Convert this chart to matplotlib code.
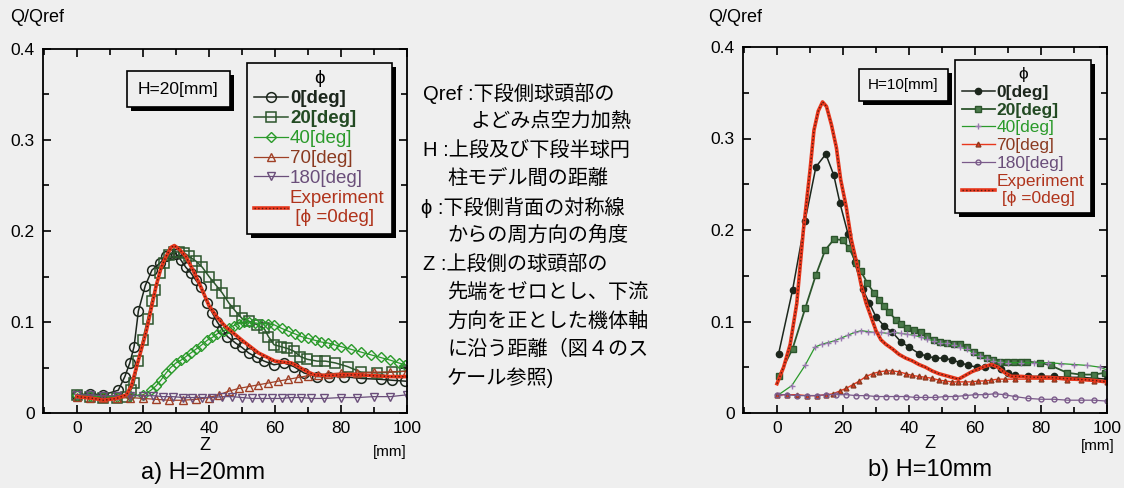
import matplotlib
matplotlib.use("Agg")
import matplotlib.pyplot as plt
from matplotlib.ticker import MultipleLocator
import matplotlib.patheffects as pe

plt.rcParams['font.family'] = ['Liberation Sans', 'Noto Sans CJK JP', 'DejaVu Sans']

# ---- data: a) H=20mm ----
a0_z = [0, 4, 8, 12.5, 14.5, 16, 17.3, 18.6, 20.7, 22.7, 25.2, 27, 28.5, 30, 31.5, 33, 34.5, 36, 37.5,
        39.5, 41, 42.5, 44, 45.6, 48, 50, 52, 54.5, 56.7, 59.7, 62.7, 65.7, 68.8, 72.8, 76.5, 80.8, 86, 92, 95.5, 99.5]
a0_v = [0.02, 0.021, 0.02, 0.025, 0.04, 0.055, 0.073, 0.112, 0.14, 0.157, 0.165, 0.172, 0.175, 0.175, 0.168, 0.16,
        0.154, 0.146, 0.139, 0.121, 0.11, 0.1, 0.092, 0.084, 0.077, 0.072, 0.066, 0.061, 0.057, 0.053, 0.055, 0.051,
        0.044, 0.04, 0.04, 0.04, 0.038, 0.037, 0.036, 0.035]
a20_z = [0, 4, 8, 12, 15, 16.3, 17.3, 18.6, 19.9, 21.4, 22.6, 23.6, 25.2, 26.4, 27.9, 29.4, 31, 32.5, 34, 36, 38,
         40, 42, 44, 46, 48, 50, 52, 54.6, 56.7, 58, 59.7, 61.7, 63.7, 65.7, 67.7, 69.8, 72.8, 75.3, 78.3, 82,
         86, 91, 95.5, 99.5]
a20_v = [0.02, 0.018, 0.017, 0.017, 0.018, 0.025, 0.033, 0.057, 0.08, 0.103, 0.123, 0.135, 0.154, 0.165, 0.174,
         0.177, 0.177, 0.176, 0.172, 0.167, 0.16, 0.15, 0.141, 0.132, 0.121, 0.112, 0.104, 0.101, 0.097, 0.093,
         0.084, 0.075, 0.073, 0.071, 0.068, 0.062, 0.059, 0.057, 0.057, 0.055, 0.051, 0.045, 0.044, 0.045, 0.046]
a40_z = [0, 4, 8, 12, 16, 20, 22.4, 24, 25.4, 27, 28.4, 30, 31.5, 33, 34.5, 36, 37.5, 39.5, 41, 42.5, 44.5,
         46, 47.5, 49, 50.5, 52, 54, 56, 58, 59.7, 62, 64, 66, 68, 70, 72, 74, 76, 78, 80, 83, 86, 89, 92, 95, 97.5, 99.5]
a40_v = [0.02, 0.019, 0.018, 0.018, 0.019, 0.02, 0.025, 0.03, 0.036, 0.044, 0.05, 0.055, 0.058, 0.062, 0.066,
         0.07, 0.074, 0.08, 0.083, 0.087, 0.09, 0.093, 0.096, 0.098, 0.1, 0.1, 0.099, 0.098, 0.098, 0.097, 0.093,
         0.09, 0.087, 0.084, 0.082, 0.08, 0.078, 0.077, 0.075, 0.073, 0.07, 0.067, 0.064, 0.061, 0.058, 0.055, 0.053]
a70_z = [0, 4, 8, 12, 16, 20, 24, 28, 32, 36, 40, 43, 46, 49, 52, 55, 58, 61, 64, 67, 70, 73, 76, 80, 85, 90, 95, 100]
a70_v = [0.018, 0.017, 0.016, 0.016, 0.017, 0.016, 0.015, 0.014, 0.014, 0.015, 0.017, 0.02, 0.024, 0.027, 0.029,
         0.031, 0.033, 0.035, 0.037, 0.039, 0.041, 0.042, 0.043, 0.044, 0.044, 0.045, 0.045, 0.046]
a180_z = [0, 4, 8, 12, 16, 20, 23, 26, 29, 32, 35, 38, 41, 44, 47, 50, 53, 56, 59, 62, 65, 68, 71, 75, 80, 85, 90, 95, 100]
a180_v = [0.02, 0.02, 0.019, 0.019, 0.019, 0.019, 0.019, 0.018, 0.018, 0.017, 0.017, 0.017, 0.017, 0.018, 0.018,
          0.017, 0.016, 0.016, 0.016, 0.016, 0.017, 0.017, 0.016, 0.016, 0.017, 0.017, 0.018, 0.018, 0.02]
aexp_z = [0, 5, 8, 12, 15, 16.5, 18, 19.5, 21, 22.5, 24, 25.5, 27, 28.5, 29.5, 31, 33, 35, 37, 40, 42.5, 45,
          50, 55, 60, 65, 70, 72, 76, 80, 85, 90, 95, 100]
aexp_v = [0.018, 0.016, 0.014, 0.016, 0.02, 0.03, 0.05, 0.07, 0.09, 0.115, 0.14, 0.16, 0.172, 0.182, 0.184, 0.18,
          0.172, 0.158, 0.143, 0.118, 0.105, 0.095, 0.08, 0.066, 0.057, 0.055, 0.045, 0.042, 0.041, 0.042, 0.042,
          0.041, 0.04, 0.04]

# ---- data: b) H=10mm ----
b0_z = [0.5, 4.7, 8.5, 11.8, 14.8, 17.2, 19.1, 21.5, 23.5, 26, 28, 30, 32.5, 35, 37.5, 40, 43, 45.5, 48, 50.5,
        53, 55.6, 58, 60.7, 63, 65.5, 68, 70, 72, 76, 80, 84, 88, 92, 96, 100]
b0_v = [0.065, 0.134, 0.21, 0.269, 0.283, 0.26, 0.229, 0.196, 0.165, 0.135, 0.12, 0.105, 0.095, 0.088, 0.078,
        0.072, 0.065, 0.062, 0.06, 0.06, 0.058, 0.055, 0.052, 0.05, 0.05, 0.052, 0.048, 0.044, 0.041, 0.04, 0.04,
        0.04, 0.039, 0.039, 0.038, 0.037]
b20_z = [0.5, 4.7, 8.6, 11.8, 14.6, 17.3, 19.9, 21.9, 24, 25.4, 27.4, 29.4, 31, 32.5, 34, 36, 37.5, 39.5, 41.5,
         43.5, 45.5, 47.6, 49.5, 51.6, 53.5, 55.6, 57.5, 59.7, 61.5, 63.7, 65.5, 67.7, 69.8, 71.8, 73.8, 75.8,
         79.8, 82.9, 87.9, 92, 96, 99.5]
b20_v = [0.04, 0.07, 0.115, 0.151, 0.178, 0.19, 0.189, 0.18, 0.164, 0.155, 0.142, 0.131, 0.124, 0.117, 0.11,
         0.102, 0.097, 0.093, 0.091, 0.088, 0.084, 0.08, 0.078, 0.076, 0.075, 0.075, 0.072, 0.067, 0.063, 0.06,
         0.058, 0.056, 0.056, 0.056, 0.056, 0.056, 0.055, 0.052, 0.044, 0.042, 0.042, 0.044]
b40_z = [0.5, 4.5, 8.5, 11.5, 13.5, 15.5, 17.5, 19.5, 21.5, 23.5, 25.5, 27.5, 29.5, 31.5, 33.5, 35.5, 37.5, 39.5,
         41.5, 43.5, 45.5, 47.5, 49.5, 51.5, 53.5, 55.5, 57.5, 59.5, 61.5, 63.5, 65.5, 67.5, 70, 74, 78, 82, 86,
         90, 94, 98, 100]
b40_v = [0.02, 0.03, 0.052, 0.072, 0.075, 0.077, 0.079, 0.082, 0.085, 0.088, 0.09, 0.089, 0.088, 0.088, 0.087,
         0.088, 0.087, 0.086, 0.085, 0.083, 0.081, 0.079, 0.077, 0.076, 0.074, 0.072, 0.07, 0.066, 0.062, 0.059,
         0.057, 0.056, 0.055, 0.055, 0.055, 0.055, 0.054, 0.053, 0.052, 0.05, 0.047]
b70_z = [0, 3, 6, 9, 12, 15, 17, 19, 21, 23, 25, 27, 29, 31, 33, 35, 37, 39, 41, 43, 45, 47, 49, 51, 53, 55, 57,
         59, 61, 63, 65, 67, 69, 72, 76, 80, 84, 88, 92, 96, 100]
b70_v = [0.02, 0.02, 0.02, 0.019, 0.019, 0.02, 0.021, 0.024, 0.027, 0.031, 0.035, 0.04, 0.043, 0.045, 0.046,
         0.046, 0.045, 0.043, 0.041, 0.04, 0.039, 0.038, 0.036, 0.035, 0.034, 0.034, 0.034, 0.034, 0.035, 0.035,
         0.036, 0.037, 0.037, 0.037, 0.037, 0.037, 0.037, 0.036, 0.036, 0.035, 0.034]
b180_z = [0, 3, 6, 9, 12, 15, 18, 21, 24, 27, 30, 33, 36, 39, 42, 45, 48, 51, 54, 57, 60, 63, 66, 69, 72, 76,
          80, 84, 88, 92, 96, 100]
b180_v = [0.02, 0.02, 0.019, 0.019, 0.019, 0.02, 0.02, 0.02, 0.019, 0.019, 0.018, 0.018, 0.018, 0.018, 0.017,
          0.017, 0.017, 0.018, 0.018, 0.019, 0.02, 0.02, 0.021, 0.02, 0.018, 0.016, 0.015, 0.015, 0.014, 0.014,
          0.014, 0.013]
bexp_z = [0, 2, 4, 6, 8, 10, 11.2, 12.5, 13.8, 15, 16.5, 18, 19.3, 21, 22.5, 24.4, 25.5, 27, 28.5, 30, 31.5, 33,
          35, 37, 39, 41, 43, 45, 47, 49, 51, 53, 55, 57, 59, 61, 63, 65, 67, 69, 71, 74, 78, 82, 86, 90, 95, 100]
bexp_v = [0.032, 0.05, 0.075, 0.12, 0.2, 0.265, 0.309, 0.33, 0.34, 0.335, 0.315, 0.29, 0.255, 0.225, 0.19, 0.16,
          0.14, 0.12, 0.105, 0.09, 0.08, 0.075, 0.07, 0.064, 0.06, 0.057, 0.053, 0.05, 0.046, 0.043, 0.041, 0.039,
          0.037, 0.041, 0.045, 0.048, 0.051, 0.053, 0.05, 0.044, 0.04, 0.04, 0.039, 0.039, 0.038, 0.037, 0.036, 0.034]

labels = ['0[deg]', '20[deg]', '40[deg]', '70[deg]', '180[deg]', 'Experiment\n [ϕ =0deg]']
label_colors = ['#1c261c', '#234a23', '#2a9a2a', '#8a3a20', '#6a4e7a', '#b0341c']
label_weights = ['bold', 'bold', 'normal', 'normal', 'normal', 'normal']

BG = '#efefef'
W, H = 1124, 488

fig = plt.figure(figsize=(11.24, 4.88), dpi=100, facecolor=BG)
ax1 = fig.add_axes([43 / W, 1 - 413 / H, 364 / W, 364 / H])
ax2 = fig.add_axes([743 / W, 1 - 413 / H, 364 / W, 366 / H])


def style_axes(ax):
    ax.set_facecolor(BG)
    ax.set_xlim(-10.3, 100)
    ax.set_ylim(0, 0.4)
    ax.xaxis.set_minor_locator(MultipleLocator(10))
    ax.yaxis.set_minor_locator(MultipleLocator(0.05))
    ax.set_xticks([0, 20, 40, 60, 80, 100])
    ax.set_yticks([0, 0.1, 0.2, 0.3, 0.4])
    ax.set_yticklabels(['0', '0.1', '0.2', '0.3', '0.4'])
    ax.tick_params(which='both', direction='in', top=True, right=True, labelsize=12.5, width=1.2, pad=6)
    ax.tick_params(which='major', length=6)
    ax.tick_params(which='minor', length=4)
    for s in ax.spines.values():
        s.set_linewidth(1.3)


style_axes(ax1)
style_axes(ax2)

# a) hollow markers
h = []
h += ax1.plot(a0_z, a0_v, '-o', color='#1c261c', mfc='none', ms=7, mew=1.1, lw=1.1)
h += ax1.plot(a20_z, a20_v, '-s', color='#2c552c', mfc='none', ms=6.5, mew=1.1, lw=1.1)
h += ax1.plot(a40_z, a40_v, '-D', color='#2a9a2a', mfc='none', ms=5, mew=1.0, lw=0.9)
h += ax1.plot(a70_z, a70_v, '-^', color='#a04026', mfc='none', ms=6, mew=1.0, lw=0.9)
h += ax1.plot(a180_z, a180_v, '-v', color='#6a4e7a', mfc='none', ms=6, mew=1.0, lw=0.9)
ax1.plot(aexp_z, aexp_v, '-', color='#e8371c', lw=2.6)
h += ax1.plot(aexp_z, aexp_v, ':', color='#5a1a10', lw=1.0)
h[-1] = (ax1.plot([], [], '-', color='#e8371c', lw=2.6)[0], h[-1])

# b) small filled markers
g = []
g += ax2.plot(b0_z, b0_v, '-o', color='#1c261c', ms=4.5, lw=1.1)
g += ax2.plot(b20_z, b20_v, '-s', color='#2c552c', mfc='#4a7a4a', ms=4.5, lw=1.3)
g += ax2.plot(b40_z, b40_v, '-+', color='#2a9a2a', mec='#9a78b0', ms=4, lw=0.9)
g += ax2.plot(b70_z, b70_v, '-^', color='#e8371c', mec='#8a3a20', ms=3.5, lw=1.0)
g += ax2.plot(b180_z, b180_v, '-o', color='#7a5a8a', mfc='none', ms=3.5, lw=0.9)
ax2.plot(bexp_z, bexp_v, '-', color='#e8371c', lw=2.6)
g += ax2.plot(bexp_z, bexp_v, ':', color='#5a1a10', lw=1.0)
g[-1] = (ax2.plot([], [], '-', color='#e8371c', lw=2.6)[0], g[-1])


def add_legend(ax, handles, anchor, fs, hl):
    leg = ax.legend(handles, labels, title='ϕ', loc='upper left', bbox_to_anchor=anchor,
                    fontsize=fs, title_fontsize=fs, frameon=True, fancybox=False,
                    edgecolor='black', facecolor=BG, framealpha=1, handlelength=hl,
                    handletextpad=0.1, labelspacing=0.15, borderpad=0.4, borderaxespad=0)
    leg.get_frame().set_linewidth(1.2)
    leg.get_frame().set_path_effects([pe.withSimplePatchShadow(offset=(3, -3), shadow_rgbFace='black', alpha=1)])
    for t, c, w in zip(leg.get_texts(), label_colors, label_weights):
        t.set_color(c)
        t.set_fontweight(w)
    return leg


add_legend(ax1, h, (0.56, 0.962), 13.5, 1.8)
add_legend(ax2, g, (0.582, 0.964), 12.5, 1.9)


def hbox(ax, txt, x, y, fs, pad):
    t = ax.text(x, y, txt, transform=ax.transAxes, ha='center', va='center', fontsize=fs,
                bbox=dict(boxstyle='square,pad=%s' % pad, fc=BG, ec='black', lw=1.2))
    t.get_bbox_patch().set_path_effects([pe.withSimplePatchShadow(offset=(3, -3), shadow_rgbFace='black', alpha=1)])


hbox(ax1, 'H=20[mm]', 0.372, 0.89, 12.5, 0.62)
hbox(ax2, 'H=10[mm]', 0.44, 0.896, 11, 0.6)


def ftext(x, y, s, **kw):
    fig.text(x / W, 1 - y / H, s, **kw)


# axis labels and captions
ftext(10, 18, 'Q/Qref', fontsize=13, va='center')
ftext(708, 18, 'Q/Qref', fontsize=13, va='center')
ftext(205, 445, 'Z', fontsize=13, ha='center', va='center')
ftext(930, 443, 'Z', fontsize=13, ha='center', va='center')
ftext(390, 452, '[mm]', fontsize=11, ha='center', va='center')
ftext(1098, 446, '[mm]', fontsize=11, ha='center', va='center')
ftext(203, 473, 'a) H=20mm', fontsize=17, ha='center', va='center')
ftext(930, 470, 'b) H=10mm', fontsize=17, ha='center', va='center')

# explanation text in the middle
notes = [
    (423, 'Qref :下段側球頭部の'),
    (470, 'よどみ点空力加熱'),
    (423, 'H :上段及び下段半球円'),
    (447, '柱モデル間の距離'),
    (421, 'ϕ :下段側背面の対称線'),
    (447, 'からの周方向の角度'),
    (423, 'Z :上段側の球頭部の'),
    (447, '先端をゼロとし、下流'),
    (447, '方向を正とした機体軸'),
    (447, 'に沿う距離（図４のス'),
    (447, 'ケール参照)'),
]
for i, (x, s) in enumerate(notes):
    ftext(x, 93 + i * 28.5, s, fontsize=14.5, va='center', ha='left')

fig.savefig('out.png', dpi=100, facecolor=BG)
